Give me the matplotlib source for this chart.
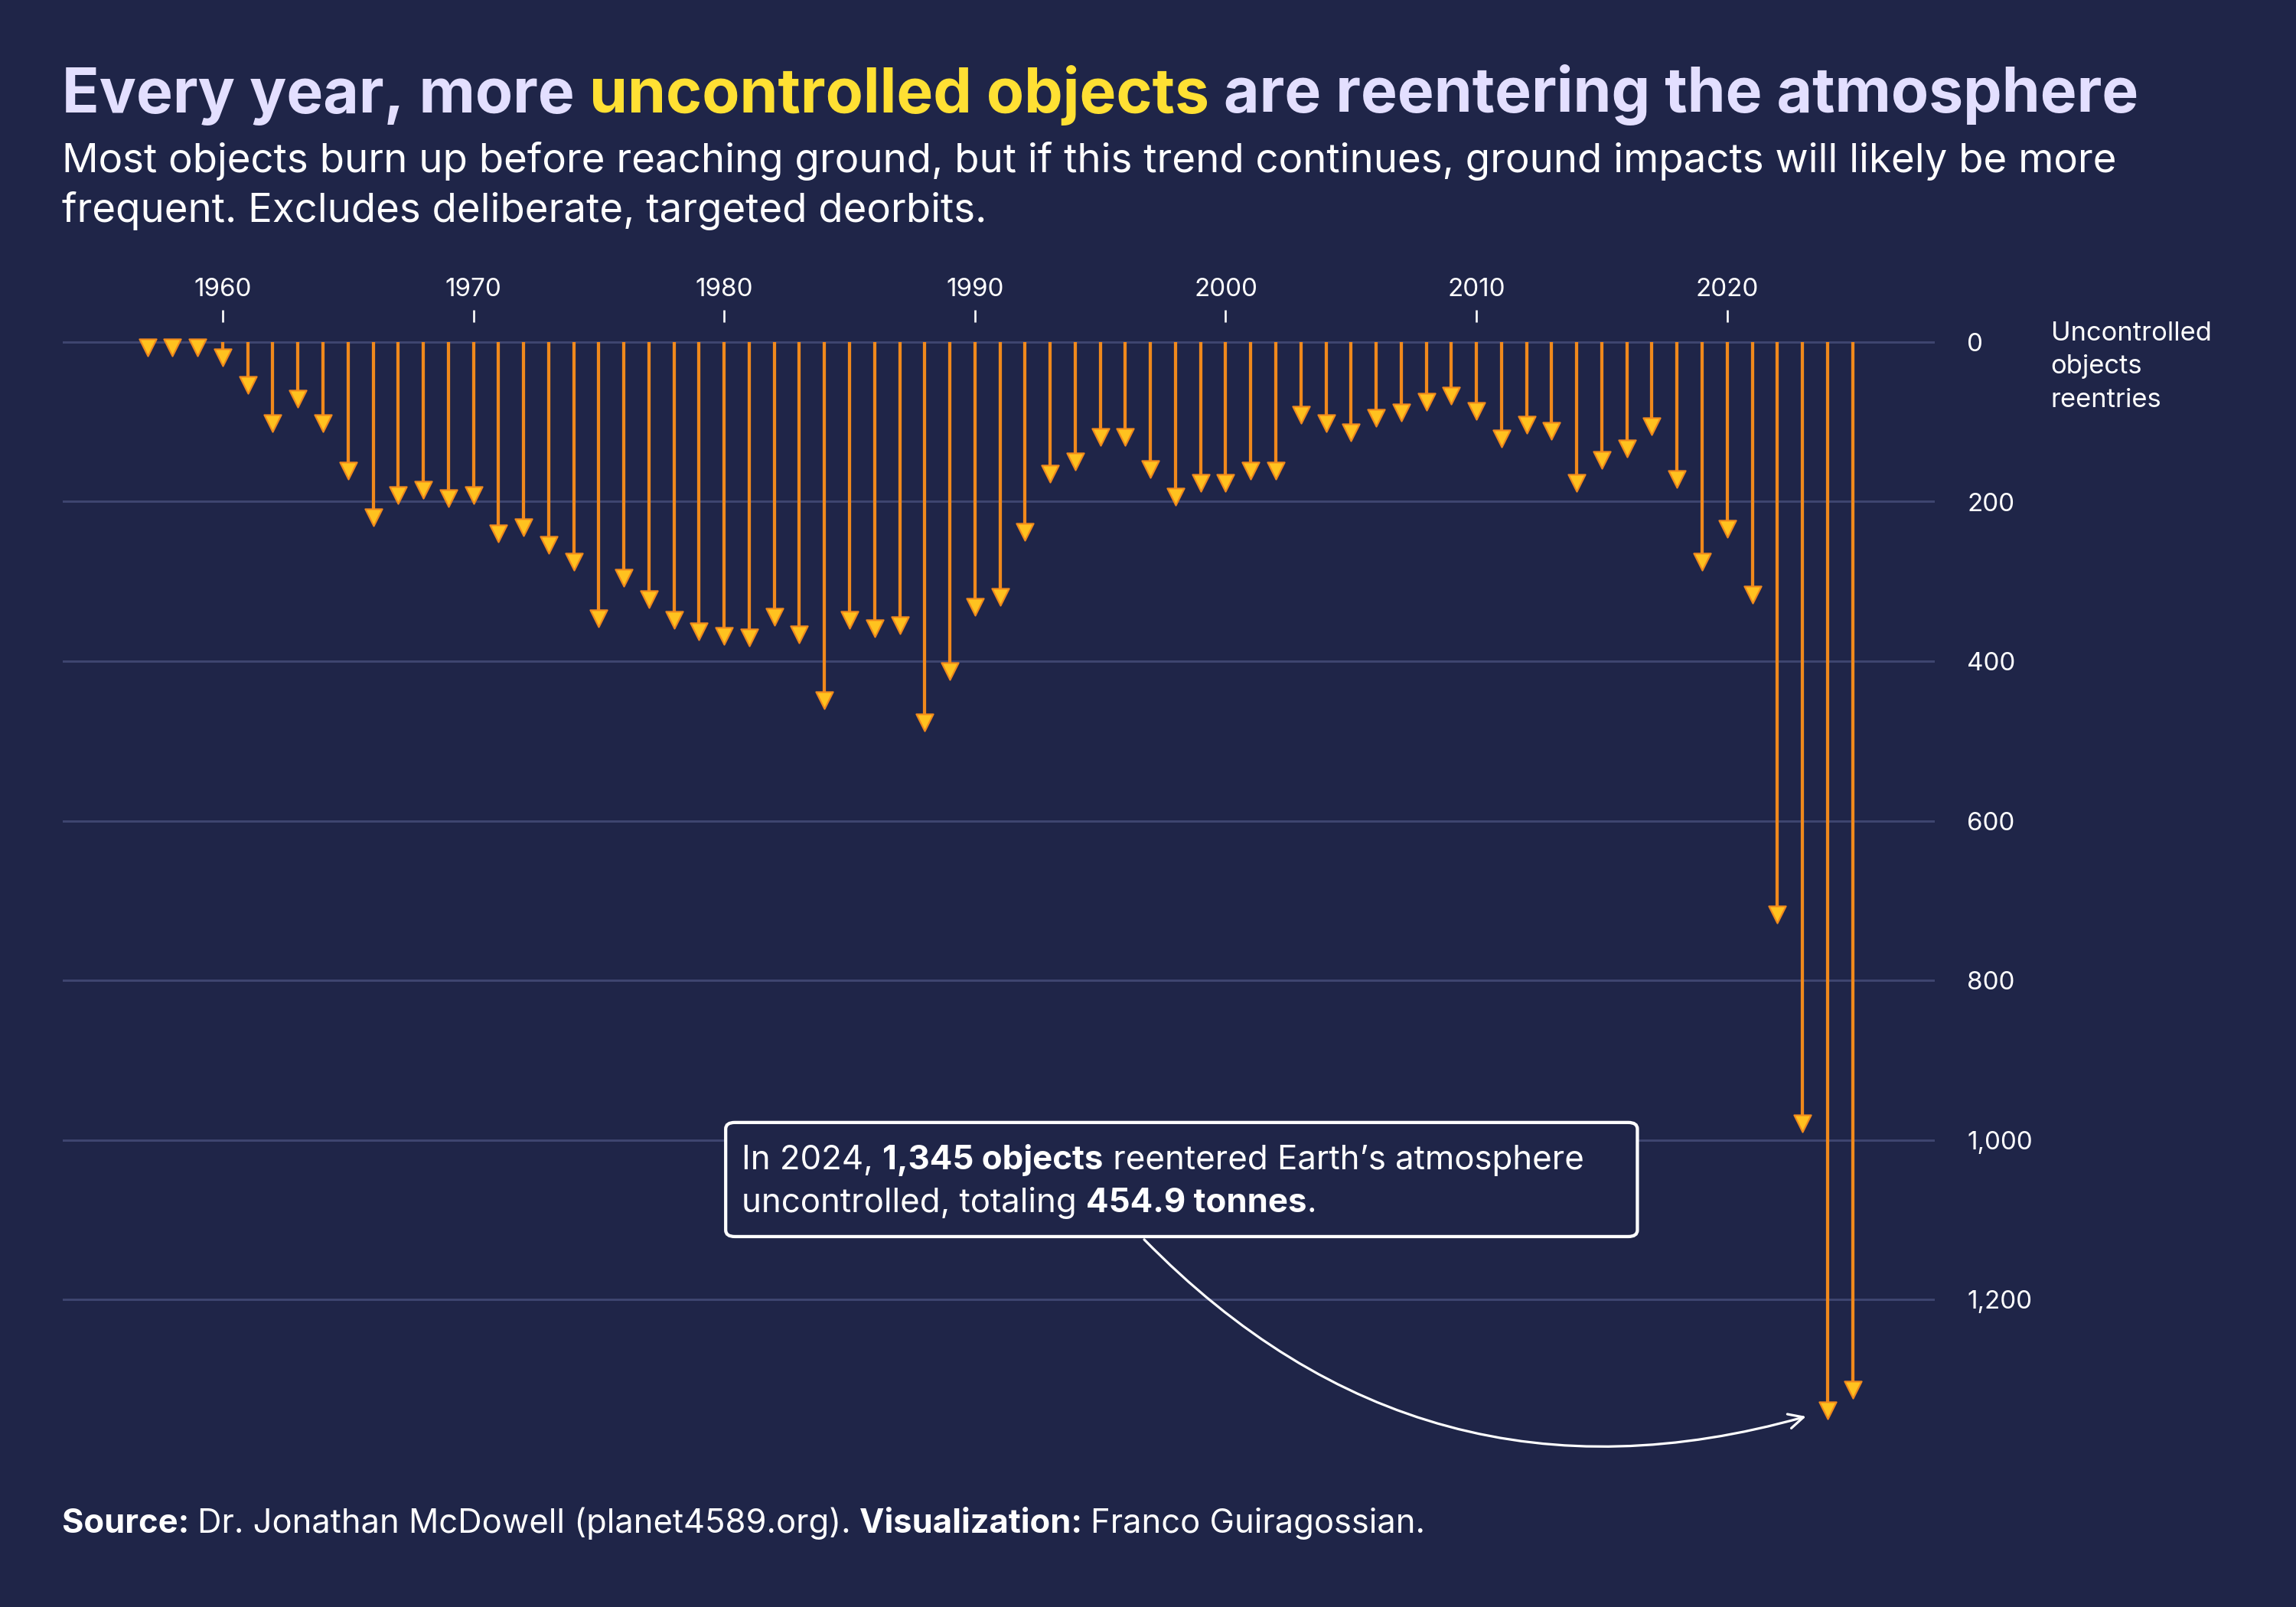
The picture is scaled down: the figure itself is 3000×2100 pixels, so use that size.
import matplotlib
matplotlib.use("Agg")
import matplotlib.pyplot as plt
from matplotlib.patches import FancyBboxPatch

years = list(range(1957, 2026))
reentries = [13, 13, 13, 25, 60, 108, 77, 108, 167, 226, 198, 191, 202, 198, 246, 238,
             260, 281, 352, 301, 328, 354, 369, 374, 376, 350, 372, 455, 354, 365, 361,
             483, 418, 338, 325, 244, 171, 156, 125, 125, 165, 200, 183, 183, 167, 167,
             97, 108, 119, 101, 94, 81, 73, 92, 127, 110, 117, 183, 154, 139, 112, 178,
             281, 240, 323, 723, 985, 1345, 1319]
xticks = [1960, 1970, 1980, 1990, 2000, 2010, 2020]
yticks = [0, 200, 400, 600, 800, 1000, 1200]

BG = "#1f2548"
ORANGE = "#f0891c"
YELLOW = "#ffc21f"
FONT = ["Inter", "DejaVu Sans"]
plt.rcParams['font.family'] = FONT

fig = plt.figure(figsize=(15.71, 10.995), dpi=191)
fig.patch.set_facecolor(BG)
ax = fig.add_axes([0.0274, 0.082, 0.815, 0.7176])
ax.set_facecolor(BG)
ax.set_xlim(1953.63, 2028.27)
ax.set_ylim(1420, -25)

for t in yticks:
    ax.axhline(t, color="#3f4670", lw=1.1, zorder=0)
ax.vlines(years, 0, reentries, color=ORANGE, lw=1.6, zorder=2)
ax.scatter(years, [v - 6 for v in reentries], marker="v", s=70, color=YELLOW,
           edgecolor=ORANGE, linewidth=0.8, zorder=3)

for s in ax.spines.values():
    s.set_visible(False)
ax.xaxis.tick_top()
ax.set_xticks(xticks)
ax.set_xticklabels([str(x) for x in xticks])
ax.tick_params(axis="x", colors="white", labelsize=12.5, length=6, width=1, pad=4)
ax.yaxis.tick_right()
ax.set_yticks(yticks)
ax.set_yticklabels([f"{t:,}" for t in yticks])
ax.tick_params(axis="y", colors="white", labelsize=12.5, length=0, pad=16)
fig.text(0.893, 0.800, "Uncontrolled\nobjects\nreentries", color="white", fontsize=13,
         va="top", ha="left", linespacing=1.45)

def rich(x, y, parts, size, z=6):
    prev = None
    for txt, color, weight in parts:
        if prev is None:
            prev = fig.text(x, y, txt, color=color, fontsize=size, fontweight=weight,
                            va="baseline", ha="left", zorder=z)
        else:
            prev = ax.annotate(txt, xy=(1, 0), xycoords=prev, color=color, fontsize=size,
                               fontweight=weight, va="bottom", ha="left",
                               annotation_clip=False, zorder=z)
    return prev

rich(0.027, 0.930, [("Every year, more ", "#e3dfff", "bold"),
                    ("uncontrolled objects", "#ffe033", "bold"),
                    (" are reentering the atmosphere", "#e3dfff", "bold")], 30.3)
fig.text(0.027, 0.893, "Most objects burn up before reaching ground, but if this trend continues, ground impacts will likely be more",
         color="white", fontsize=19.9, va="baseline")
fig.text(0.027, 0.862, "frequent. Excludes deliberate, targeted deorbits.",
         color="white", fontsize=19.9, va="baseline")

rich(0.027, 0.046, [("Source: ", "white", "bold"),
                    ("Dr. Jonathan McDowell (planet4589.org). ", "white", "normal"),
                    ("Visualization: ", "white", "bold"),
                    ("Franco Guiragossian.", "white", "normal")], 16.4)

# annotation box
box = FancyBboxPatch((0.3160, 0.2305), 0.397, 0.071, boxstyle="round,pad=0,rounding_size=0.004",
                     transform=fig.transFigure, facecolor=BG, edgecolor="white", lw=1.6, zorder=5)
ax.add_patch(box)
box.set_clip_on(False)
rich(0.323, 0.2725, [("In 2024, ", "white", "normal"), ("1,345 objects", "white", "bold"),
                     (" reentered Earth\u2019s atmosphere", "white", "normal")], 16.5)
rich(0.323, 0.2455, [("uncontrolled, totaling ", "white", "normal"), ("454.9 tonnes", "white", "bold"),
                     (".", "white", "normal")], 16.5)
ax.annotate("", xy=(2023.3, 1345), xycoords="data", xytext=(0.497, 0.2305),
            textcoords="figure fraction",
            arrowprops=dict(arrowstyle="->", color="white", lw=1.2,
                            connectionstyle="arc3,rad=0.3", mutation_scale=18),
            annotation_clip=False, zorder=4)

fig.savefig("out.png", facecolor=BG)
